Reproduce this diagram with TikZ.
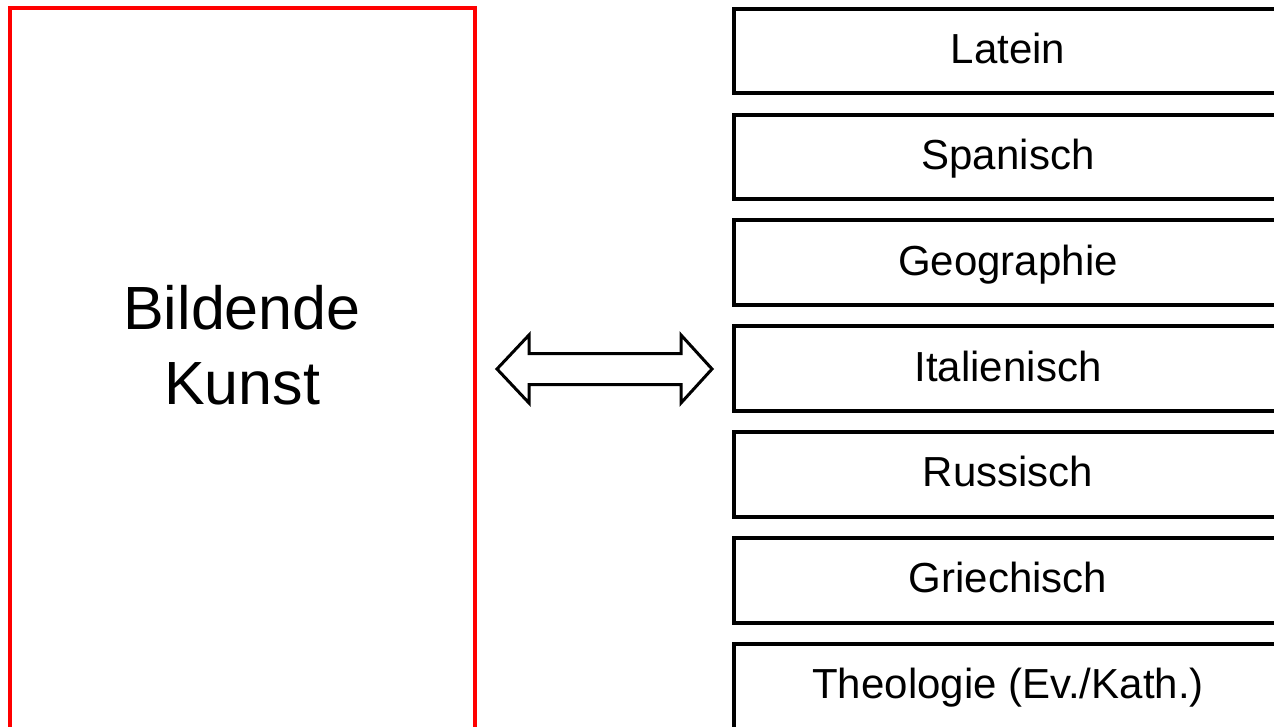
\documentclass[tikz,border=0pt]{standalone}
\usepackage{fontspec}
\setmainfont{Liberation Sans}
\begin{document}
\begin{tikzpicture}[x=1pt,y=-1pt,
  subjbox/.style={draw=black, line width=4pt, minimum width=548pt, minimum height=84.5pt,
    anchor=north west, inner sep=0pt, outer sep=0pt, text height=30pt, text depth=5.3pt,
    font=\fontsize{42}{50}\selectfont},
  artbox/.style={draw=red, line width=4pt, minimum width=465pt, minimum height=730pt,
    anchor=north west, inner sep=0pt, outer sep=0pt},
  arttext/.style={align=center, font=\fontsize{61}{75}\selectfont, inner sep=0pt},
  bigarrow/.style={draw=black, line width=3pt, fill=white, line join=miter}
]
\useasboundingbox (0,0) rectangle (1274,727);
\clip (0,0) rectangle (1274,727);
\fill[white] (0,0) rectangle (1274,727);

\node[artbox] (art) at (9.5,8) {};
\node[arttext] (arttxt) at (242,345.5) {Bildende\\Kunst};

\node[subjbox] (s1) at (734,8.7) {Latein};
\node[subjbox] (s2) at (734,114.6) {Spanisch};
\node[subjbox] (s3) at (734,220.5) {Geographie};
\node[subjbox] (s4) at (734,326.4) {Italienisch};
\node[subjbox] (s5) at (734,432.3) {Russisch};
\node[subjbox] (s6) at (734,538.2) {Griechisch};
\node[subjbox] (s7) at (734,644.1) {Theologie (Ev./Kath.)};

\coordinate (ltip) at (497,369);
\coordinate (rtip) at (712,369);
\draw[bigarrow] (ltip) -- (529,335) -- (529,353.5) -- (681,353.5) -- (681,335)
  -- (rtip) -- (681,403) -- (681,384.5) -- (529,384.5) -- (529,403) -- cycle;
\end{tikzpicture}
\end{document}
